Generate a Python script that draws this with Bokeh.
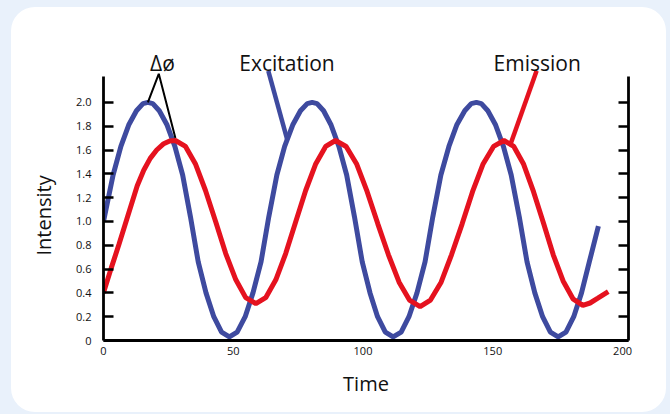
import numpy as np
from bokeh.plotting import figure
from bokeh.models import Range1d, FixedTicker, LinearAxis, GlobalInlineStyleSheet, Title
from bokeh.core.properties import value
from bokeh.embed import file_html
from bokeh.resources import INLINE

# ---------------- data ----------------
excitation_t = [0, 3.7, 6.7, 9.7, 12.7, 15.2, 17.1,
                19.0, 21.5, 24.5, 27.5, 30.5, 33.5, 36.5, 39.5, 42.5, 45.5, 48.5,
                51.5, 54.6, 57.6, 60.7, 63.7, 66.8, 69.8, 72.9, 75.9, 78.5, 80.4,
                82.3, 84.8, 87.7, 90.7, 93.7, 96.7, 99.7, 102.7, 105.6, 108.6, 111.6,
                114.7, 117.7, 120.8, 123.9, 126.9, 130.0, 133.1, 136.1, 139.2, 141.7, 143.7,
                145.6, 148.1, 151.1, 154.1, 157.1, 160.2, 163.2, 166.2, 169.2, 172.2, 175.2,
                178.2, 181.2, 184.2, 187.2, 190.7]
excitation_y = [1.0, 1.39, 1.63, 1.81, 1.93, 1.99, 2.0,
                1.99, 1.93, 1.81, 1.63, 1.39, 1.04, 0.66, 0.40, 0.20, 0.07, 0.03,
                0.07, 0.20, 0.40, 0.66, 1.04, 1.39, 1.63, 1.81, 1.93, 1.99, 2.0,
                1.99, 1.93, 1.81, 1.63, 1.39, 1.04, 0.66, 0.40, 0.20, 0.07, 0.03,
                0.07, 0.20, 0.40, 0.66, 1.04, 1.39, 1.63, 1.81, 1.93, 1.99, 2.0,
                1.99, 1.93, 1.81, 1.63, 1.39, 1.04, 0.66, 0.40, 0.20, 0.07, 0.03,
                0.07, 0.20, 0.40, 0.66, 0.96]

emission_t = [0, 3, 6, 9, 13, 15.5, 18, 20.5, 23, 25.5, 27.7,
              31.6, 35.5, 39.3, 43.2, 47.1, 51.0, 54.8, 58.7,
              62.5, 66.4, 70.2, 74.1, 77.9, 81.7, 85.6, 89.4,
              93.5, 97.6, 101.6, 105.7, 109.8, 113.9, 117.9, 122.0,
              126.0, 130.1, 134.1, 138.2, 142.2, 146.2, 150.3, 154.3,
              158.1, 161.9, 165.7, 169.5, 173.3, 177.1, 180.9, 184.7,
              187.5, 190.5, 194.5]
emission_y = [0.40, 0.61, 0.81, 1.02, 1.30, 1.43, 1.53, 1.60, 1.65, 1.675, 1.68,
              1.63, 1.48, 1.26, 1.00, 0.73, 0.51, 0.36, 0.31,
              0.36, 0.51, 0.73, 1.00, 1.26, 1.48, 1.63, 1.68,
              1.63, 1.48, 1.25, 0.98, 0.72, 0.49, 0.34, 0.285,
              0.34, 0.49, 0.72, 0.98, 1.25, 1.48, 1.63, 1.68,
              1.63, 1.48, 1.25, 0.99, 0.72, 0.50, 0.35, 0.295,
              0.315, 0.355, 0.41]

y_ticks = [0, 0.2, 0.4, 0.6, 0.8, 1.0, 1.2, 1.4, 1.6, 1.8, 2.0]
y_tick_labels = ["0", "0.2", "0.4", "0.6", "0.8", "1.0", "1.2", "1.4", "1.6", "1.8", "2.0"]
x_ticks = [0, 50, 100, 150, 200]
x_tick_labels = ["0", "50", "100", "150", "200"]

series_names = ["Excitation", "Emission"]
phase_label = "Δø"
x_title = "Time"
y_title = "Intensity"

# ---------------- style ----------------
FONT = "Open Sans"
BLUE = "#3e4a9f"
RED = "#e5121f"
INK = "#111111"

p = figure(width=655, height=405, output_backend="svg", toolbar_location=None,
           x_range=Range1d(0, 202.3), y_range=Range1d(0, 2.52),
           x_axis_location=None, y_axis_location=None,
           min_border_left=92, min_border_right=38, min_border_top=33, min_border_bottom=72)
p.margin = (7, 0, 0, 11)
p.grid.visible = False
p.outline_line_color = None
p.border_fill_color = None
p.background_fill_color = None
p.styles = {"background-color": "#ffffff", "border-radius": "24px"}
p.stylesheets = [GlobalInlineStyleSheet(css="body { background-color: #e9f1fb; }")]


def style_axis(ax):
    ax.axis_line_color = "black"
    ax.axis_line_width = 2.8
    ax.major_tick_line_color = "black"
    ax.major_tick_line_width = 2.4
    ax.minor_tick_line_color = None
    ax.major_label_text_font = FONT
    ax.major_label_text_font_size = "11px"
    ax.major_label_text_color = INK
    ax.axis_label_text_font = FONT
    ax.axis_label_text_font_size = "20px"
    ax.axis_label_text_font_style = "normal"
    ax.axis_label_text_color = INK


left = LinearAxis(ticker=FixedTicker(ticks=y_ticks), bounds=(0, 2.22))
style_axis(left)
left.major_label_overrides = {t: s for t, s in zip(y_ticks, y_tick_labels)}
left.major_tick_in = 10
left.major_tick_out = 0
left.major_label_standoff = 12
p.add_layout(left, "left")

right = LinearAxis(ticker=FixedTicker(ticks=y_ticks), bounds=(0, 2.22))
style_axis(right)
right.major_label_overrides = {t: "" for t in y_ticks}
right.major_tick_in = 10
right.major_tick_out = 0
p.add_layout(right, "right")

bottom = LinearAxis(ticker=FixedTicker(ticks=x_ticks), axis_label=x_title)
style_axis(bottom)
bottom.major_label_overrides = {t: s for t, s in zip(x_ticks, x_tick_labels)}
bottom.major_tick_in = 0
bottom.major_tick_out = 0
bottom.major_label_standoff = 6
bottom.axis_label_standoff = 12
p.add_layout(bottom, "below")

# y axis title (as a side title so it can sit below the middle of the frame)
p.add_layout(Title(text=y_title, align="left", offset=85, standoff=32,
                   vertical_align="middle",
                   text_font=FONT, text_font_size="20px", text_font_style="normal",
                   text_color=INK), "left")

# curves
p.line(excitation_t, excitation_y, line_color=BLUE, line_width=5)
p.line(emission_t, emission_y, line_color=RED, line_width=5)

# annotation pointers (anchored on the curves)
label_y = 2.335
ptr_top = 2.265
exc_tip_t = 70.8
exc_tip_y = float(np.interp(exc_tip_t, excitation_t, excitation_y))
p.line([63.5, exc_tip_t], [ptr_top, exc_tip_y], line_color=BLUE, line_width=4.5)
emi_tip_t = 156.8
emi_tip_y = float(np.interp(emi_tip_t, emission_t, emission_y))
p.line([166.9, emi_tip_t], [ptr_top, emi_tip_y], line_color=RED, line_width=4.5)

peak_b = int(np.argmax(excitation_y))
peak_r = int(np.argmax(emission_y))
p.line([excitation_t[peak_b], 21.3, emission_t[peak_r]],
       [excitation_y[peak_b], 2.24, emission_y[peak_r] + 0.02],
       line_color="black", line_width=2)

p.text(x=[22.7, 70.7, 167.1], y=[label_y] * 3,
       text=[phase_label, series_names[0], series_names[1]],
       text_align="center", text_baseline="alphabetic",
       text_font=value(FONT), text_font_size="21px", text_color=INK)

open("out.html", "w").write(file_html(p, INLINE))
